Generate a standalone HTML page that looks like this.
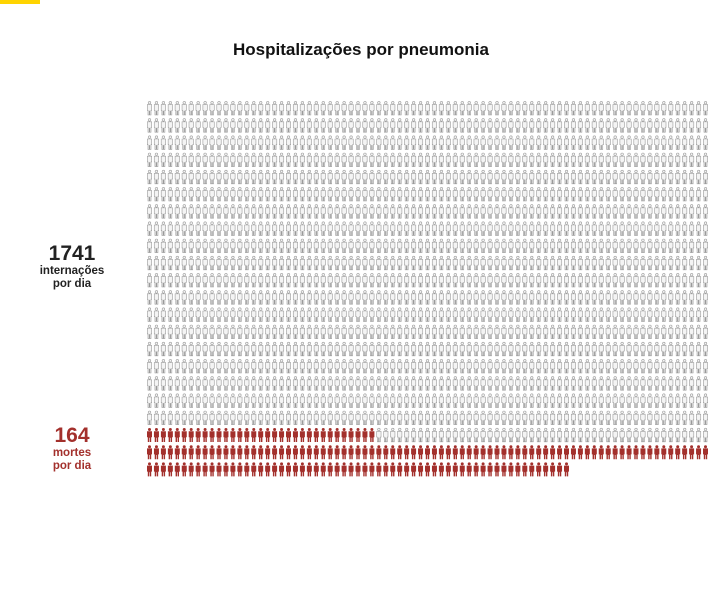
<!DOCTYPE html>
<html><head><meta charset="utf-8"><style>
body{margin:0;background:#fff;width:722px;height:600px;overflow:hidden;font-family:"Liberation Sans",sans-serif;}
</style></head><body>
<svg id="chart" width="722" height="600" xmlns="http://www.w3.org/2000/svg">
<defs>
<g id="p-gray"><circle cx="2.5" cy="1.7" r="1.3" fill="#f4f4f4" stroke="#9a9a9a" stroke-width="0.6"/><path d="M0.3 3.6H4.7V9.3H4V14H2.8V10H2.2V14H1V9.3H0.3Z" fill="#f4f4f4" stroke="#9a9a9a" stroke-width="0.6"/></g>
<g id="p-red"><circle cx="2.5" cy="1.7" r="1.5" fill="#a3302c"/><path d="M0 3.4H5V9.4H4.2V14.2H2.8V10H2.2V14.2H0.8V9.4H0Z" fill="#a3302c"/></g>
</defs>
<rect x="0" y="0" width="40" height="4" fill="#ffd400"/>
<text x="361" y="55" text-anchor="middle" font-size="17" font-weight="bold" fill="#111">Hospitalizações por pneumonia</text>
<text x="72" y="260" text-anchor="middle" font-size="21" font-weight="bold" fill="#222">1741</text>
<text x="72" y="274" text-anchor="middle" font-size="11.5" font-weight="bold" fill="#222">internações</text>
<text x="72" y="287" text-anchor="middle" font-size="11.5" font-weight="bold" fill="#222">por dia</text>
<text x="72" y="442" text-anchor="middle" font-size="21" font-weight="bold" fill="#a3302c">164</text>
<text x="72" y="456" text-anchor="middle" font-size="11.5" font-weight="bold" fill="#a3302c">mortes</text>
<text x="72" y="469" text-anchor="middle" font-size="11.5" font-weight="bold" fill="#a3302c">por dia</text>
<g id="grid"></g>
</svg>
<script>
const categories = ["internações", "mortes"];
const values = [1741, 164];
// icons per row: [gray, red]
const rowGray = [81,81,81,81,81,81,81,81,81,81,81,81,81,81,81,81,81,81,81,48,0,0];
const rowRed  = [0,0,0,0,0,0,0,0,0,0,0,0,0,0,0,0,0,0,0,33,81,61];
const x0 = 147, y0 = 101, dx = 6.95, dy = 17.2;
const g = document.getElementById('grid');
const NS = 'http://www.w3.org/2000/svg';
rowRed.forEach((r, i) => {
  for (let c = 0; c < r + rowGray[i]; c++) {
    const u = document.createElementNS(NS, 'use');
    u.setAttribute('href', c < r ? '#p-red' : '#p-gray');
    u.setAttribute('x', (x0 + c * dx).toFixed(2));
    u.setAttribute('y', (y0 + i * dy).toFixed(2));
    
    
    g.appendChild(u);
  }
});
</script>
</body></html>
